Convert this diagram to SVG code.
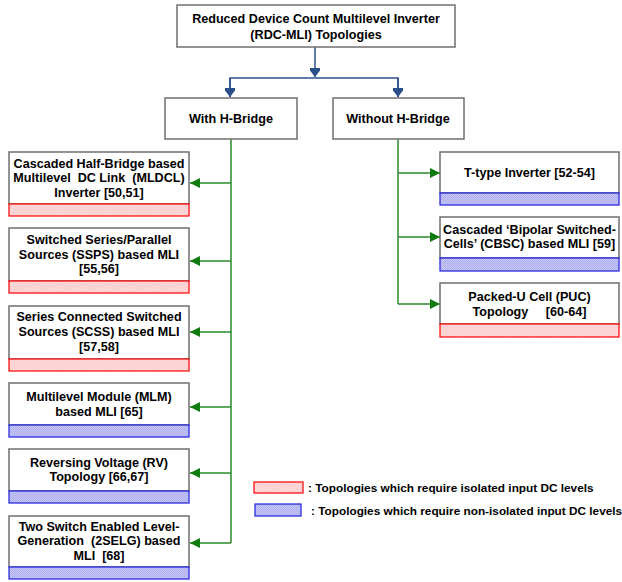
<svg xmlns="http://www.w3.org/2000/svg" width="622" height="582" viewBox="0 0 622 582">
<style>
.box{fill:#fff;stroke:#6f6f6f;stroke-width:1.5}
.red{fill:url(#hatchRed);stroke:#ff0000;stroke-width:1.2}
.blue{fill:url(#dotBlue);stroke:#1f1fe0;stroke-width:1.2}
text{font-family:"Liberation Sans",Arial,sans-serif;font-weight:bold;font-size:12.6px;fill:#000;white-space:pre}
.c{text-anchor:middle}
.lg{font-size:11.8px}
.bl{fill:none;stroke:#2a4f8a;stroke-width:1.5}
.gr{fill:none;stroke:#2a8a2a;stroke-width:1.5}
</style>
<defs>
<pattern id="hatchRed" width="3" height="3" patternUnits="userSpaceOnUse">
<rect width="3" height="3" fill="#ffdada"/>
<path d="M0,3 L3,0 M-1,1 L1,-1 M2,4 L4,2" stroke="#f7bcbc" stroke-width="0.6"/>
</pattern>
<pattern id="dotBlue" width="2" height="2" patternUnits="userSpaceOnUse">
<rect width="2" height="2" fill="#c6c6f6"/>
<rect width="1" height="1" fill="#b0b0f0"/>
<rect x="1" y="1" width="1" height="1" fill="#b0b0f0"/>
</pattern>
<marker id="ab" markerWidth="16" markerHeight="10" refX="9" refY="5" orient="auto" markerUnits="userSpaceOnUse">
<path d="M0,-2 L9,5 L0,12 Z" fill="#2a4f8a"/>
</marker>
<marker id="ag" markerWidth="12" markerHeight="12" refX="10" refY="6" orient="auto" markerUnits="userSpaceOnUse">
<path d="M0,1 L10,6 L0,11 Z" fill="#0f7a0f"/>
</marker>
</defs>

<g id="connectors">
<path class="bl" d="M315,47 V77" marker-end="url(#ab)"/>
<path class="bl" d="M230,97 V78 H398 V97" />
<path class="bl" d="M230,78 V97" marker-end="url(#ab)"/>
<path class="bl" d="M398,78 V97" marker-end="url(#ab)"/>
<path class="gr" d="M231,139 V543"/>
<path class="gr" d="M231,183 H190" marker-end="url(#ag)"/>
<path class="gr" d="M231,261 H190" marker-end="url(#ag)"/>
<path class="gr" d="M231,332 H190" marker-end="url(#ag)"/>
<path class="gr" d="M231,407 H190" marker-end="url(#ag)"/>
<path class="gr" d="M231,473 H190" marker-end="url(#ag)"/>
<path class="gr" d="M231,543 H190" marker-end="url(#ag)"/>
<path class="gr" d="M398,139 V304"/>
<path class="gr" d="M398,173 H440" marker-end="url(#ag)"/>
<path class="gr" d="M398,237 H440" marker-end="url(#ag)"/>
<path class="gr" d="M398,304 H440" marker-end="url(#ag)"/>
</g>

<g id="root">
<rect class="box" x="177" y="5" width="278" height="42"/>
<text class="c" x="316" y="22.5">Reduced Device Count Multilevel Inverter</text>
<text class="c" x="316" y="38.5">(RDC-MLI) Topologies</text>
</g>

<g id="with-hbridge">
<rect class="box" x="165" y="98" width="132" height="41"/>
<text class="c" x="231" y="122.5">With H-Bridge</text>
</g>

<g id="without-hbridge">
<rect class="box" x="333" y="98" width="131" height="41"/>
<text class="c" x="398" y="122.5">Without H-Bridge</text>
</g>

<g id="mldcl">
<rect class="box" x="9" y="152" width="180" height="52"/>
<rect class="red" x="9" y="204" width="180" height="12"/>
<text class="c" x="99" y="167.5">Cascaded Half-Bridge based</text>
<text class="c" x="99" y="182">Multilevel  DC Link  (MLDCL)</text>
<text class="c" x="99" y="197">Inverter [50,51]</text>
</g>

<g id="ssps">
<rect class="box" x="9" y="228" width="180" height="53"/>
<rect class="red" x="9" y="281" width="180" height="12"/>
<text class="c" x="99" y="243.5">Switched Series/Parallel</text>
<text class="c" x="99" y="258.5">Sources (SSPS) based MLI</text>
<text class="c" x="99" y="273">[55,56]</text>
</g>

<g id="scss">
<rect class="box" x="9" y="306" width="180" height="53"/>
<rect class="red" x="9" y="359" width="180" height="12"/>
<text class="c" x="99" y="320.5">Series Connected Switched</text>
<text class="c" x="99" y="336">Sources (SCSS) based MLI</text>
<text class="c" x="99" y="351">[57,58]</text>
</g>

<g id="mlm">
<rect class="box" x="9" y="383" width="180" height="42"/>
<rect class="blue" x="9" y="425" width="180" height="12"/>
<text class="c" x="99" y="401">Multilevel Module (MLM)</text>
<text class="c" x="99" y="415.5">based MLI [65]</text>
</g>

<g id="rv">
<rect class="box" x="9" y="449" width="180" height="42"/>
<rect class="blue" x="9" y="491" width="180" height="12"/>
<text class="c" x="99" y="467">Reversing Voltage (RV)</text>
<text class="c" x="99" y="481">Topology [66,67]</text>
</g>

<g id="2selg">
<rect class="box" x="9" y="516" width="180" height="51"/>
<rect class="blue" x="9" y="567" width="180" height="12"/>
<text class="c" x="99" y="531">Two Switch Enabled Level-</text>
<text class="c" x="99" y="545">Generation  (2SELG) based</text>
<text class="c" x="99" y="559.5">MLI  [68]</text>
</g>

<g id="ttype">
<rect class="box" x="440" y="152" width="179" height="41"/>
<rect class="blue" x="440" y="193" width="179" height="12"/>
<text class="c" x="529.5" y="177">T-type Inverter [52-54]</text>
</g>

<g id="cbsc">
<rect class="box" x="440" y="217" width="179" height="41"/>
<rect class="blue" x="440" y="258" width="179" height="13"/>
<text class="c" x="529.5" y="233.5">Cascaded ‘Bipolar Switched-</text>
<text class="c" x="529.5" y="248">Cells’ (CBSC) based MLI [59]</text>
</g>

<g id="puc">
<rect class="box" x="440" y="283" width="179" height="41"/>
<rect class="red" x="440" y="324" width="179" height="13"/>
<text class="c" x="529.5" y="300.5">Packed-U Cell (PUC)</text>
<text class="c" x="529.5" y="316">Topology     [60-64]</text>
</g>

<g id="legend">
<rect class="red" x="254" y="482" width="49" height="11"/>
<text class="lg" x="308" y="491.5">: Topologies which require isolated input DC levels</text>
<rect class="blue" x="255" y="504" width="46" height="12"/>
<text class="lg" x="311" y="514.5">: Topologies which require non-isolated input DC levels</text>
</g>
</svg>
